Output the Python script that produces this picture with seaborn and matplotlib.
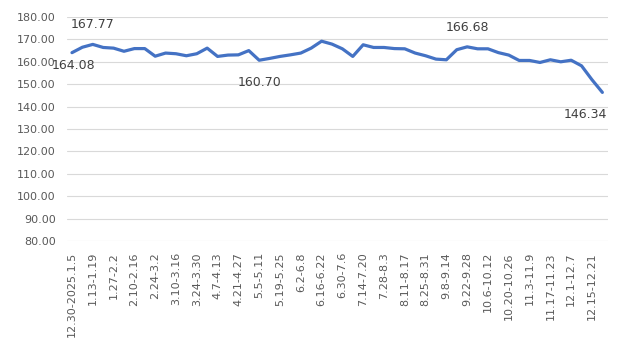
import matplotlib
matplotlib.use("Agg")
import matplotlib.pyplot as plt
import seaborn as sns
import pandas as pd
import numpy as np

values = [164.08, 166.5, 167.77, 166.4, 166.1, 164.7, 165.9, 165.9, 162.5, 163.9,
          163.6, 162.7, 163.6, 166.1, 162.4, 163.0, 163.1, 165.0, 160.70, 161.5,
          162.4, 163.1, 163.9, 166.1, 169.2, 167.9, 165.8, 162.4, 167.6, 166.4,
          166.4, 165.9, 165.8, 163.9, 162.7, 161.2, 160.9, 165.4, 166.68, 165.8,
          165.8, 164.1, 163.0, 160.6, 160.6, 159.7, 160.9, 160.0, 160.7, 158.2,
          152.0, 146.34]

tick_labels = ["12.30-2025.1.5", "1.13-1.19", "1.27-2.2", "2.10-2.16", "2.24-3.2",
               "3.10-3.16", "3.24-3.30", "4.7-4.13", "4.21-4.27", "5.5-5.11",
               "5.19-5.25", "6.2-6.8", "6.16-6.22", "6.30-7.6", "7.14-7.20",
               "7.28-8.3", "8.11-8.17", "8.25-8.31", "9.8-9.14", "9.22-9.28",
               "10.6-10.12", "10.20-10.26", "11.3-11.9", "11.17-11.23", "12.1-12.7",
               "12.15-12.21"]

# annotated points: (index, position)
annotations = [(0, "below"), (2, "above"), (18, "below"), (38, "above"), (51, "below")]

sns.set_style("white")
plt.rcParams['font.family'] = ['DejaVu Sans']

df = pd.DataFrame({"week": np.arange(len(values)), "value": values})

fig = plt.figure(figsize=(6.27, 3.47), dpi=100)
ax = fig.add_axes([0.1065, 0.3055, 0.8625, 0.6455])

sns.lineplot(data=df, x="week", y="value", ax=ax, color="#4472C4", linewidth=2.3)

ax.set_xlim(-0.5, len(values) - 0.5)
ax.set_ylim(80, 180)
ax.set_yticks(np.arange(80, 181, 10))
ax.set_yticklabels([f"{v:.2f}" for v in np.arange(80, 181, 10)])
ax.set_xticks(np.arange(0, len(values), 2))
ax.set_xticklabels(tick_labels, rotation=90)

ax.grid(axis="y", color="#D9D9D9", linewidth=0.8)
ax.grid(axis="x", visible=False)
for s in ax.spines.values():
    s.set_visible(False)
ax.tick_params(axis="y", length=0, pad=8, labelsize=8, labelcolor="#595959")
ax.tick_params(axis="x", length=0, pad=8, labelsize=8, labelcolor="#595959")
ax.set_xlabel("")
ax.set_ylabel("")

for idx, pos in annotations:
    v = values[idx]
    if pos == "above":
        off = (0, 14)
    else:
        off = (0, -16)
    ha = "center"
    if idx == len(values) - 1:
        off = (-12, -16)
    if idx == 0:
        off = (1, -9)
    ax.annotate(f"{v:.2f}", (idx, v), xytext=off, textcoords="offset points",
                ha=ha, va="center", fontsize=9, color="#404040", annotation_clip=False)

fig.savefig("out.png", dpi=100)
